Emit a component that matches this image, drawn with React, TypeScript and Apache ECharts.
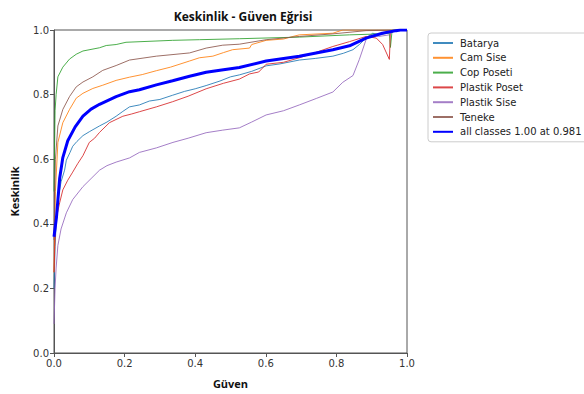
import React, { useEffect, useRef } from "react";
import * as echarts from "echarts";

const title = "Keskinlik - Güven Eğrisi";
const xName = "Güven";
const yName = "Keskinlik";
const classNames = ["Batarya", "Cam Sise", "Cop Poseti", "Plastik Poset", "Plastik Sise", "Teneke"];
const allName = "all classes 1.00 at 0.981";
const colors = ["#1f77b4", "#ff7f0e", "#2ca02c", "#d62728", "#9467bd", "#8c564b"];

const batarya = [[0,0.2],[0.003,0.33],[0.007,0.42],[0.012,0.48],[0.02,0.53],[0.03,0.566],[0.035,0.597],[0.045,0.62],[0.053,0.64],[0.065,0.655],[0.082,0.673],[0.1,0.685],[0.129,0.703],[0.15,0.715],[0.176,0.733],[0.195,0.748],[0.214,0.762],[0.242,0.768],[0.27,0.78],[0.3,0.785],[0.336,0.798],[0.37,0.81],[0.4,0.818],[0.431,0.828],[0.47,0.842],[0.5,0.855],[0.525,0.861],[0.56,0.872],[0.601,0.889],[0.64,0.895],[0.695,0.907],[0.74,0.912],[0.79,0.919],[0.82,0.928],[0.847,0.939],[0.865,0.955],[0.884,0.975],[0.903,0.99],[0.92,0.985],[0.94,0.99],[0.96,1.0],[1,1]];
const camSise = [[0,0.25],[0.004,0.5],[0.011,0.652],[0.025,0.713],[0.044,0.754],[0.063,0.789],[0.082,0.804],[0.11,0.819],[0.138,0.829],[0.176,0.844],[0.214,0.854],[0.25,0.862],[0.29,0.874],[0.33,0.885],[0.384,0.904],[0.412,0.914],[0.45,0.919],[0.48,0.93],[0.506,0.939],[0.554,0.944],[0.56,0.955],[0.601,0.968],[0.65,0.972],[0.677,0.98],[0.695,0.985],[0.79,0.99],[0.818,1.0],[1,1]];
const copPoseti = [[0,0.5],[0.003,0.75],[0.006,0.8],[0.011,0.855],[0.025,0.885],[0.044,0.91],[0.063,0.925],[0.082,0.935],[0.129,0.945],[0.148,0.952],[0.176,0.955],[0.204,0.962],[0.336,0.968],[0.412,0.97],[0.525,0.973],[0.695,0.978],[0.837,0.985],[0.93,0.988],[0.95,0.99],[0.953,0.946],[0.957,0.99],[0.962,1.0],[1,1]];
const plastikPoset = [[0,0.25],[0.003,0.35],[0.006,0.414],[0.016,0.465],[0.025,0.505],[0.039,0.535],[0.053,0.56],[0.067,0.586],[0.082,0.611],[0.1,0.652],[0.115,0.665],[0.129,0.683],[0.157,0.713],[0.195,0.733],[0.22,0.74],[0.242,0.747],[0.29,0.762],[0.336,0.778],[0.38,0.795],[0.431,0.818],[0.48,0.835],[0.525,0.848],[0.554,0.864],[0.58,0.87],[0.601,0.894],[0.65,0.9],[0.695,0.914],[0.74,0.93],[0.79,0.949],[0.837,0.964],[0.884,0.98],[0.913,0.975],[0.931,0.955],[0.95,0.909],[0.953,0.99],[0.97,1.0],[1,1]];
const plastikSise = [[0,0.09],[0.003,0.2],[0.006,0.263],[0.011,0.333],[0.02,0.384],[0.035,0.434],[0.053,0.475],[0.082,0.515],[0.105,0.54],[0.129,0.566],[0.15,0.58],[0.176,0.591],[0.214,0.604],[0.242,0.621],[0.29,0.635],[0.337,0.652],[0.38,0.665],[0.431,0.682],[0.478,0.69],[0.525,0.697],[0.56,0.715],[0.601,0.737],[0.65,0.75],[0.695,0.768],[0.743,0.788],[0.79,0.808],[0.818,0.838],[0.847,0.859],[0.865,0.909],[0.884,0.97],[0.894,0.985],[0.92,0.98],[0.95,0.985],[0.965,1.0],[1,1]];
const teneke = [[0,0.35],[0.004,0.6],[0.011,0.703],[0.025,0.754],[0.044,0.794],[0.063,0.824],[0.082,0.839],[0.11,0.855],[0.138,0.875],[0.176,0.89],[0.214,0.907],[0.29,0.919],[0.384,0.929],[0.431,0.944],[0.478,0.953],[0.525,0.956],[0.601,0.97],[0.695,0.98],[0.79,0.988],[0.884,0.998],[1,1]];
const allClasses = [[0,0.36],[0.007,0.42],[0.016,0.54],[0.025,0.605],[0.039,0.657],[0.06,0.7],[0.082,0.733],[0.105,0.755],[0.129,0.77],[0.176,0.794],[0.214,0.809],[0.242,0.815],[0.29,0.83],[0.336,0.843],[0.384,0.857],[0.431,0.869],[0.48,0.877],[0.525,0.884],[0.601,0.904],[0.695,0.919],[0.79,0.939],[0.837,0.951],[0.884,0.975],[0.93,0.99],[0.969,0.998],[0.981,1.0],[1,1]];

const classData = [batarya, camSise, copPoseti, plastikPoset, plastikSise, teneke];

export default function App() {
  const ref = useRef<HTMLDivElement>(null);
  useEffect(() => {
    const chart = echarts.init(ref.current!, null, { renderer: "svg" });
    const axisCommon = {
      min: 0,
      max: 1,
      interval: 0.2,
      axisLine: { show: true, onZero: false, lineStyle: { color: "#555", width: 1 } },
      axisTick: { show: true, inside: false, length: 4, lineStyle: { color: "#555" } },
      splitLine: { show: false },
      axisLabel: {
        color: "#333",
        fontFamily: "DejaVu Sans",
        fontSize: 10,
        margin: 5,
        formatter: (v: number) => v.toFixed(1),
      },
    };
    const labelFont = { fontFamily: "Open Sans", fontWeight: "bold", fontSize: 11, color: "#111" };
    const series: any[] = classData.map((d, i) => ({
      name: classNames[i],
      type: "line",
      data: d,
      symbol: "none",
      smooth: false,
      lineStyle: { width: 1, color: colors[i], opacity: 0.85 },
      itemStyle: { color: colors[i] },
    }));
    series.push({
      name: allName,
      type: "line",
      data: allClasses,
      symbol: "none",
      lineStyle: { width: 3, color: "#0000ff" },
      itemStyle: { color: "#0000ff" },
      z: 5,
    });
    chart.setOption({
      animation: false,
      backgroundColor: "#fff",
      title: {
        text: title,
        left: 238,
        textAlign: "center",
        top: 5,
        textStyle: { fontFamily: "Open Sans", fontWeight: "bold", fontSize: 12, color: "#111" },
      },
      grid: { left: 54, top: 30, width: 353, height: 330, show: true, borderColor: "#555", borderWidth: 1, backgroundColor: "transparent" },
      xAxis: {
        type: "value",
        ...axisCommon,
        name: xName,
        nameLocation: "middle",
        nameGap: 25,
        nameTextStyle: labelFont,
      },
      yAxis: {
        type: "value",
        ...axisCommon,
        name: yName,
        nameLocation: "middle",
        nameGap: 34,
        nameTextStyle: labelFont,
      },
      legend: {
        orient: "vertical",
        left: 428,
        top: 33,
        itemWidth: 20,
        itemHeight: 10,
        itemGap: 4.8,
        padding: [5, 6, 5, 4],
        borderColor: "#ccc",
        borderWidth: 1,
        borderRadius: 3,
        itemStyle: { opacity: 0 },
        textStyle: { fontFamily: "DejaVu Sans", fontSize: 10, color: "#222", lineHeight: 10, padding: [0, 0, 0, 2] },
        data: [...classNames, allName],
      },
      series,
    });
    return () => chart.dispose();
  }, []);
  return <div ref={ref} style={{ width: 584, height: 394, position: "absolute", left: 0, top: 0 }} />;
}
